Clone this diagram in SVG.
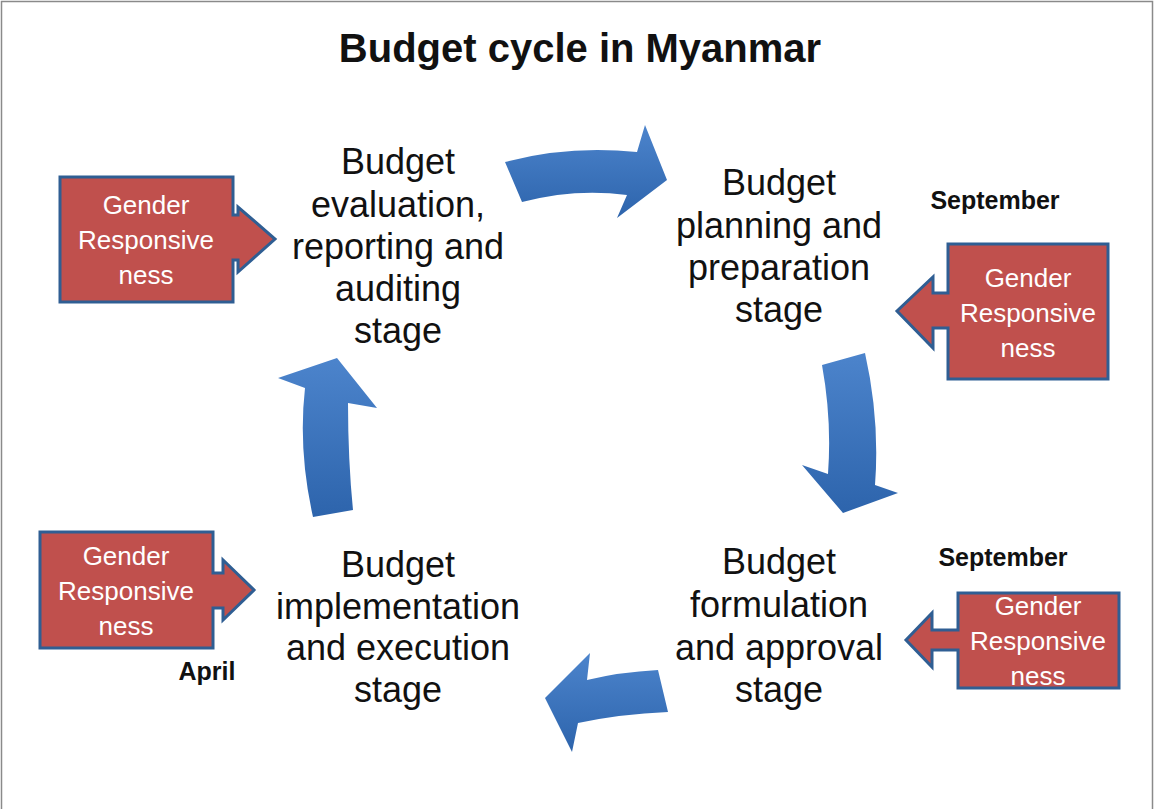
<svg xmlns="http://www.w3.org/2000/svg" width="1155" height="809" viewBox="0 0 1155 809">
<style>
.stage{font-family:"Liberation Sans",Arial,sans-serif;font-size:36px;fill:#111;text-anchor:middle}
.gr{font-family:"Liberation Sans",Arial,sans-serif;font-size:26px;fill:#fff;text-anchor:middle}
.mon{font-family:"Liberation Sans",Arial,sans-serif;font-size:25px;font-weight:bold;fill:#111;text-anchor:middle}
.call{fill:#c0504d;stroke:#2f5e93;stroke-width:3;stroke-linejoin:miter}
.big{fill:url(#bg);stroke:none}
</style>
<defs>
<linearGradient id="bg" x1="0" y1="0" x2="0" y2="1">
<stop offset="0" stop-color="#4c84cc"/>
<stop offset="1" stop-color="#2d64ac"/>
</linearGradient>
</defs>
<rect x="0" y="0" width="1155" height="809" fill="#fff"/>
<rect x="1.5" y="1.5" width="1151" height="830" fill="none" stroke="#8a8a8a" stroke-width="1.5"/>
<text x="580" y="62" font-family="Liberation Sans,Arial,sans-serif" font-size="40" font-weight="bold" fill="#111" text-anchor="middle">Budget cycle in Myanmar</text>

<g id="connectors">
<path class="big" d="M505,162 Q568,145 637,152 L645,125 L667,180 L617,218 L627,195 Q575,188 522,202 Z"/>
<path class="big" d="M822,365 L865,353 Q880,420 875,485 L898,493 L843,513 L802,465 L828,474 Q832,420 822,365 Z"/>
<path class="big" d="M658,670 Q620,672 587,680 L590,653 L545,698 L572,752 L578,723 Q620,714 668,712 Z"/>
<path class="big" d="M313,517 Q298,450 305,388 L278,378 L337,358 L377,408 L348,403 Q348,460 353,510 Z"/>
</g>

<g id="stage-evaluation">
<text class="stage" x="398" y="174">Budget</text>
<text class="stage" x="398" y="217">evaluation,</text>
<text class="stage" x="398" y="259">reporting and</text>
<text class="stage" x="398" y="301">auditing</text>
<text class="stage" x="398" y="343">stage</text>
</g>
<g id="stage-planning">
<text class="stage" x="779" y="195">Budget</text>
<text class="stage" x="779" y="238">planning and</text>
<text class="stage" x="779" y="280">preparation</text>
<text class="stage" x="779" y="322">stage</text>
</g>
<g id="stage-formulation">
<text class="stage" x="779" y="574">Budget</text>
<text class="stage" x="779" y="617">formulation</text>
<text class="stage" x="779" y="660">and approval</text>
<text class="stage" x="779" y="702">stage</text>
</g>
<g id="stage-implementation">
<text class="stage" x="398" y="577">Budget</text>
<text class="stage" x="398" y="619">implementation</text>
<text class="stage" x="398" y="660">and execution</text>
<text class="stage" x="398" y="702">stage</text>
</g>

<g id="gr-evaluation">
<path class="call" d="M60,177 L233,177 L233,215 L238,215 L238,207 L275,239 L238,272 L238,260 L233,260 L233,302 L60,302 Z"/>
<text class="gr" x="146" y="214">Gender</text>
<text class="gr" x="146" y="249">Responsive</text>
<text class="gr" x="146" y="284">ness</text>
</g>
<g id="gr-planning">
<path class="call" d="M948,244 L1108,244 L1108,379 L948,379 L948,328 L933,328 L933,348 L897,311 L933,277 L933,293 L948,293 Z"/>
<text class="gr" x="1028" y="287">Gender</text>
<text class="gr" x="1028" y="322">Responsive</text>
<text class="gr" x="1028" y="357">ness</text>
</g>
<g id="gr-formulation">
<path class="call" d="M958,593 L1119,593 L1119,688 L958,688 L958,650 L932,650 L932,667 L906,640 L932,613 L932,630 L958,630 Z"/>
<text class="gr" x="1038" y="615">Gender</text>
<text class="gr" x="1038" y="650">Responsive</text>
<text class="gr" x="1038" y="685">ness</text>
</g>
<g id="gr-implementation">
<path class="call" d="M40,532 L213,532 L213,573 L223,573 L223,560 L254,590 L223,620 L223,608 L213,608 L213,648 L40,648 Z"/>
<text class="gr" x="126" y="565">Gender</text>
<text class="gr" x="126" y="600">Responsive</text>
<text class="gr" x="126" y="635">ness</text>
</g>

<g id="months">
<text class="mon" x="995" y="209">September</text>
<text class="mon" x="1003" y="566">September</text>
<text class="mon" x="207" y="680">April</text>
</g>
</svg>
